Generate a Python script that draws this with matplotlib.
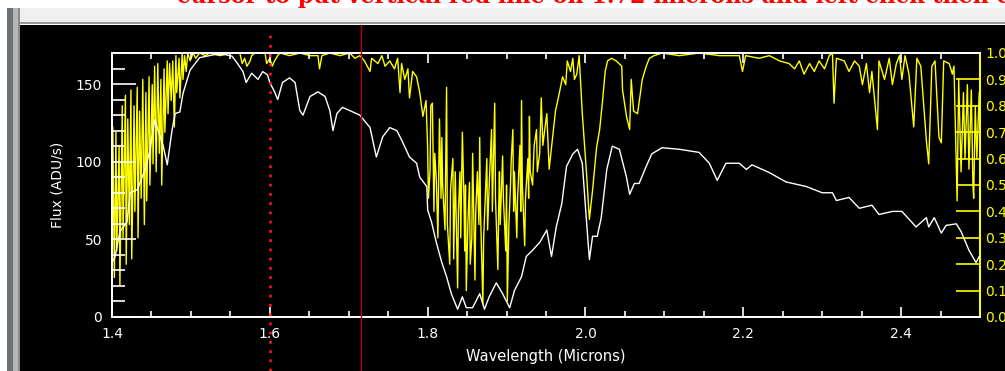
import numpy as np
import matplotlib
matplotlib.use("Agg")
import matplotlib.pyplot as plt
from matplotlib.patches import Rectangle
from matplotlib.ticker import MultipleLocator, FormatStrFormatter

# object spectrum (white), flux in ADU/s
flux_wave = [1.400, 1.404, 1.410, 1.419, 1.423, 1.432, 1.442, 1.448, 1.454, 1.465,
             1.470, 1.476, 1.480, 1.486, 1.490, 1.499, 1.511, 1.530, 1.543, 1.552,
             1.558, 1.566, 1.570, 1.577, 1.585, 1.591, 1.597, 1.600, 1.606, 1.610,
             1.616, 1.625, 1.632, 1.638, 1.642, 1.651, 1.661, 1.670, 1.676, 1.680,
             1.685, 1.692, 1.701, 1.714, 1.727, 1.735, 1.743, 1.752, 1.761, 1.767,
             1.777, 1.786, 1.790, 1.799, 1.800, 1.805, 1.811, 1.818, 1.824, 1.830,
             1.838, 1.844, 1.849, 1.857, 1.866, 1.872, 1.878, 1.887, 1.895, 1.904,
             1.910, 1.919, 1.925, 1.933, 1.942, 1.951, 1.957, 1.963, 1.970, 1.976,
             1.984, 1.990, 1.996, 2.001, 2.005, 2.009, 2.015, 2.020, 2.027, 2.034,
             2.043, 2.052, 2.056, 2.062, 2.068, 2.077, 2.084, 2.097, 2.119, 2.144,
             2.157, 2.167, 2.178, 2.195, 2.204, 2.211, 2.233, 2.254, 2.280, 2.300,
             2.313, 2.318, 2.334, 2.347, 2.363, 2.372, 2.389, 2.401, 2.419, 2.432,
             2.435, 2.442, 2.451, 2.457, 2.470, 2.476, 2.486, 2.495, 2.499]
flux = [35, 39, 55, 61, 80, 82, 95, 107, 127, 110,
        98, 120, 131, 132, 144, 159, 167, 169, 169, 168,
        164, 158, 151, 157, 153, 158, 156, 151, 145, 140,
        151, 154, 151, 133, 130, 142, 145, 142, 133, 120,
        131, 135, 133, 130, 122, 103, 116, 122, 120, 114,
        103, 99, 90, 84, 69, 61, 48, 35, 26, 15,
        5, 13, 6, 6, 15, 5, 13, 22, 15, 6,
        17, 26, 39, 43, 48, 56, 39, 58, 73, 97,
        105, 108, 99, 64, 37, 52, 52, 64, 95, 110,
        108, 90, 79, 86, 86, 97, 105, 109, 108, 106,
        99, 88, 99, 99, 95, 98, 93, 87, 84, 80,
        80, 75, 77, 70, 72, 66, 68, 68, 58, 64,
        58, 64, 54, 59, 60, 55, 43, 35, 39]

# atmospheric transmission (yellow), 0-1 on the right axis
trans_wave = [1.400, 1.401, 1.403, 1.405, 1.406, 1.409, 1.410, 1.413, 1.414, 1.417,
              1.418, 1.420, 1.422, 1.424, 1.425, 1.428, 1.429, 1.432, 1.433, 1.435,
              1.437, 1.439, 1.441, 1.443, 1.444, 1.447, 1.448, 1.451, 1.452, 1.454,
              1.456, 1.458, 1.460, 1.462, 1.463, 1.466, 1.467, 1.470, 1.471, 1.473,
              1.475, 1.477, 1.479, 1.481, 1.482, 1.485, 1.486, 1.489, 1.490, 1.492,
              1.494, 1.496, 1.499, 1.503, 1.506, 1.511, 1.518, 1.524, 1.537, 1.549,
              1.562, 1.565, 1.568, 1.571, 1.575, 1.577, 1.581, 1.594, 1.596, 1.600,
              1.603, 1.606, 1.610, 1.613, 1.625, 1.638, 1.651, 1.661, 1.663, 1.666,
              1.676, 1.689, 1.701, 1.708, 1.714, 1.720, 1.727, 1.729, 1.737, 1.742,
              1.746, 1.752, 1.758, 1.762, 1.765, 1.767, 1.771, 1.775, 1.777, 1.781,
              1.786, 1.790, 1.794, 1.798,
              1.800, 1.801, 1.803, 1.804, 1.806, 1.808, 1.809, 1.811, 1.813, 1.815,
              1.817, 1.818, 1.819, 1.822, 1.823, 1.824, 1.825, 1.828, 1.829, 1.832,
              1.833, 1.834, 1.835, 1.838, 1.839, 1.841, 1.842, 1.844, 1.846, 1.847,
              1.848, 1.849, 1.851, 1.853, 1.854, 1.856, 1.857, 1.860, 1.861, 1.863,
              1.865, 1.866, 1.867, 1.870, 1.871, 1.873, 1.875, 1.876, 1.878, 1.881,
              1.882, 1.885, 1.886, 1.889, 1.890, 1.891, 1.892, 1.895, 1.896, 1.899,
              1.900, 1.901, 1.903, 1.905, 1.906, 1.908, 1.909, 1.910, 1.913, 1.914,
              1.917, 1.918, 1.919, 1.920, 1.923, 1.924, 1.927, 1.928, 1.929, 1.930,
              1.933, 1.935, 1.938, 1.939, 1.942, 1.944, 1.946, 1.948, 1.951, 1.954,
              1.958,
              1.962, 1.967, 1.971, 1.975, 1.977, 1.981, 1.984, 1.986, 1.989,
              1.992, 1.996, 2.001, 2.005, 2.009, 2.014, 2.018, 2.022, 2.025, 2.028,
              2.033, 2.039, 2.046, 2.047, 2.052, 2.056, 2.058, 2.061, 2.066, 2.072,
              2.077, 2.081, 2.087, 2.097, 2.119, 2.144, 2.170, 2.195, 2.199, 2.203,
              2.220, 2.233, 2.246, 2.258, 2.265, 2.271, 2.277, 2.284, 2.290, 2.296,
              2.303, 2.309, 2.313, 2.315, 2.318, 2.328, 2.334, 2.341, 2.347, 2.351,
              2.356, 2.360, 2.363, 2.370, 2.372, 2.379, 2.385, 2.389, 2.394, 2.398,
              2.401, 2.405, 2.410, 2.416, 2.420, 2.425, 2.432, 2.435, 2.439, 2.443,
              2.448, 2.451, 2.454, 2.461, 2.465, 2.467, 2.471, 2.473, 2.476, 2.479,
              2.481, 2.484, 2.486, 2.489, 2.491, 2.492, 2.494, 2.496, 2.499]
trans = [0.40, 0.72, 0.15, 0.70, 0.25, 0.65, 0.12, 0.80, 0.30, 0.84,
         0.20, 0.75, 0.35, 0.86, 0.22, 0.80, 0.40, 0.87, 0.30, 0.78,
         0.45, 0.90, 0.35, 0.85, 0.44, 0.91, 0.50, 0.88, 0.58, 0.95,
         0.55, 0.96, 0.62, 0.90, 0.50, 0.94, 0.70, 0.97, 0.77, 0.96,
         0.82, 0.97, 0.72, 0.99, 0.85, 0.98, 0.83, 1.00, 0.90, 0.99,
         0.93, 1.00, 0.97, 1.00, 0.98, 1.00, 0.99, 1.00, 0.99, 1.00,
         1.00, 0.96, 0.98, 0.95, 0.97, 0.99, 1.00, 1.00, 0.96, 0.98,
         0.95, 0.97, 0.99, 1.00, 0.99, 1.00, 0.99, 0.99, 0.94, 0.99,
         1.00, 0.99, 1.00, 0.98, 0.99, 0.97, 0.93, 0.98, 0.96, 0.99,
         0.95, 0.97, 0.94, 0.98, 0.85, 0.96, 0.90, 0.94, 0.83, 0.93,
         0.91, 0.85, 0.76, 0.82,
         0.64, 0.45, 0.55, 0.80, 0.81, 0.40, 0.62, 0.52, 0.30, 0.75,
         0.45, 0.68, 0.50, 0.33, 0.60, 0.87, 0.35, 0.20, 0.48, 0.60,
         0.22, 0.39, 0.55, 0.11, 0.40, 0.55, 0.30, 0.70, 0.45, 0.25,
         0.50, 0.10, 0.35, 0.51, 0.20, 0.30, 0.62, 0.14, 0.40, 0.55,
         0.35, 0.68, 0.40, 0.05, 0.30, 0.45, 0.60, 0.33, 0.50, 0.71,
         0.40, 0.81, 0.45, 0.18, 0.40, 0.55, 0.35, 0.61, 0.45, 0.25,
         0.50, 0.06, 0.35, 0.50, 0.60, 0.71, 0.40, 0.55, 0.30, 0.45,
         0.65, 0.40, 0.82, 0.50, 0.27, 0.45, 0.60, 0.45, 0.76, 0.55,
         0.50, 0.65, 0.71, 0.55, 0.62, 0.83, 0.65, 0.70, 0.77, 0.56,
         0.67,
         0.78, 0.85, 0.91, 0.88, 0.97, 0.93, 0.98, 0.90, 0.92,
         0.99, 0.77, 0.56, 0.37, 0.48, 0.64, 0.71, 0.83, 0.93, 0.97,
         0.98, 0.97, 0.95, 0.86, 0.76, 0.71, 0.90, 0.78, 0.77, 0.90,
         0.95, 0.98, 0.99, 1.00, 0.99, 1.00, 0.99, 0.99, 0.93, 0.99,
         0.98, 0.99, 0.97, 0.96, 0.94, 0.97, 0.92, 0.96, 0.93, 0.97,
         0.94, 0.99, 1.00, 0.81, 0.98, 0.97, 0.93, 0.97, 0.95, 0.88,
         0.96, 0.85, 0.93, 0.71, 0.97, 0.90, 0.98, 0.88, 0.96, 0.99,
         0.90, 0.99, 0.92, 0.72, 0.98, 0.95, 0.67, 0.58, 0.95, 0.97,
         0.68, 0.66, 0.97, 0.96, 0.92, 0.95, 0.44, 0.90, 0.55, 0.85,
         0.60, 0.88, 0.56, 0.86, 0.50, 0.45, 0.80, 0.60, 0.85]

cursor_line = 1.6      # dotted marker
chosen_line = 1.715    # solid marker

fig = plt.figure(figsize=(10.05, 3.71), dpi=100)
fig.patch.set_facecolor('white')

W, H = 1005.0, 371.0
def frect(x0, y0, x1, y1, color):
    # rectangle given in screen pixels (top-left origin)
    fig.add_artist(Rectangle((x0 / W, 1 - y1 / H), (x1 - x0) / W, (y1 - y0) / H,
                             transform=fig.transFigure, color=color, lw=0, zorder=-5))

# window chrome around the plot
frect(20, 8, W, 22, '#efefef')
frect(20, 22, W, 24, '#9a9a9a')
frect(7, 8, 13, H, '#6e7274')
frect(13, 8, 18, H, '#b4b8ba')
frect(18, 8, 20, H, '#8a8a8a')
frect(20, 25, W, H, 'black')

# instruction text, mostly scrolled off the top of the window
fig.text(177 / W, 1 - 3 / H,
         'cursor to put vertical red line on 1.72 microns and left click then click',
         color='red', fontsize=16, fontweight='bold', family='DejaVu Serif',
         va='baseline', zorder=-4)

ax = fig.add_axes([112 / W, 54 / H, 868 / W, 264 / H])
ax.set_facecolor('black')
ax.plot(flux_wave, flux, color='white', lw=1.0, zorder=3)
ax.set_xlim(1.4, 2.5)
ax.set_ylim(0, 170)

ax2 = ax.twinx()
ax2.plot(trans_wave, trans, color='yellow', lw=1.0, zorder=2)
ax2.set_ylim(0, 1.0)
ax.set_zorder(ax2.get_zorder() + 1)
ax.patch.set_visible(False)
ax2.patch.set_facecolor('black')

for sp in ['left', 'bottom', 'top']:
    ax.spines[sp].set_color('white')
    ax2.spines[sp].set_color('white')
ax.spines['right'].set_color('yellow')
ax2.spines['right'].set_color('yellow')
for a in (ax, ax2):
    for sp in a.spines.values():
        sp.set_linewidth(1.3)

ax.xaxis.set_major_locator(MultipleLocator(0.2))
ax.xaxis.set_minor_locator(MultipleLocator(0.05))
ax.xaxis.set_major_formatter(FormatStrFormatter('%.1f'))
ax.yaxis.set_major_locator(MultipleLocator(50))
ax.yaxis.set_minor_locator(MultipleLocator(10))
ax.tick_params(axis='x', which='both', direction='in', top=True, colors='white',
               labelsize=10, pad=7)
ax.tick_params(axis='x', which='major', length=7, width=1.2)
ax.tick_params(axis='x', which='minor', length=4, width=1.2)
ax.tick_params(axis='y', which='both', direction='in', colors='white',
               labelsize=10, pad=7, right=False)
ax.tick_params(axis='y', which='major', length=17, width=1.2)
ax.tick_params(axis='y', which='minor', length=9, width=1.2)

ax2.yaxis.set_major_locator(MultipleLocator(0.1))
ax2.yaxis.set_major_formatter(FormatStrFormatter('%.1f'))
ax2.tick_params(axis='y', which='major', direction='in', colors='yellow',
                length=17, width=1.2, labelsize=10, pad=4, left=False)

ax.set_xlabel('Wavelength (Microns)', color='white', fontsize=10.5, labelpad=6)
ax.set_ylabel('Flux (ADU/s)', color='white', fontsize=10, labelpad=8)

ax.axvline(cursor_line, ymin=-0.205, ymax=1.09, color='#ff1a1a', lw=1.8,
           linestyle=(0, (1.1, 2.6)), clip_on=False, zorder=5)
ax.axvline(chosen_line, ymin=-0.205, ymax=1.105, color='#c00000', lw=1.0,
           clip_on=False, zorder=5)

fig.savefig('out.png', dpi=100, facecolor=fig.get_facecolor())
